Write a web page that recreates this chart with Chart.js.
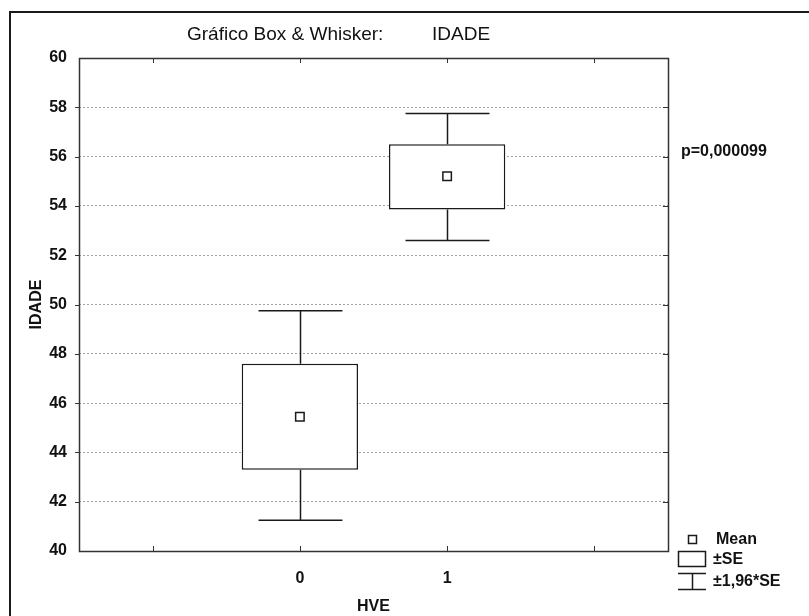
<!DOCTYPE html>
<html>
<head>
<meta charset="utf-8">
<script src="https://cdn.jsdelivr.net/npm/chart.js@4.4.1/dist/chart.umd.min.js"></script>
<style>
    html, body { margin: 0; padding: 0; background: #fff; }
    #wrap { width: 809px; height: 616px; position: relative; }
</style>
</head>
<body>
<div id="wrap"><canvas id="boxChart" width="809" height="616"></canvas></div>
<script>
// dados (HVE x IDADE)
const categories = ['', '0', '1', ''];
const means = [null, 45.45, 55.2, null];
const seBox = [null, [43.3, 47.6], [53.85, 56.5], null];
const ciLow = [null, 41.25, 52.6, null];
const ciHigh = [null, 49.75, 57.75, null];
const yMin = 40;
const yMax = 60;
const yStep = 2;
const titleParts = ['Gráfico Box & Whisker:', 'IDADE'];
const pText = 'p=0,000099';
const legendLabels = ['Mean', '±SE', '±1,96*SE'];

const ink = '#1a1a1a';
const family = '"Liberation Sans", Arial, sans-serif';
const boldFont = 'bold 16px ' + family;

const extras = {
    id: 'extras',
    beforeDraw(chart) {
        const ctx = chart.ctx;
        ctx.save();
        ctx.fillStyle = '#fff';
        ctx.fillRect(0, 0, chart.width, chart.height);
        // moldura externa (só topo e esquerda)
        ctx.strokeStyle = ink;
        ctx.lineWidth = 2;
        ctx.beginPath();
        ctx.moveTo(809, 12);
        ctx.lineTo(10, 12);
        ctx.lineTo(10, 616);
        ctx.stroke();
        ctx.restore();
    },
    beforeDatasetsDraw(chart) {
        const ctx = chart.ctx;
        const x = chart.scales.x;
        const y = chart.scales.y;
        const catW = x.getPixelForValue(1) - x.getPixelForValue(0);
        const half = catW * 0.285;
        ctx.save();
        ctx.strokeStyle = ink;
        ctx.lineWidth = 1.5;
        for (let i = 0; i < categories.length; i++) {
            if (ciLow[i] == null) continue;
            const cx = Math.round(x.getPixelForValue(i)) + 0.5;
            const yl = y.getPixelForValue(ciLow[i]);
            const yh = y.getPixelForValue(ciHigh[i]);
            const bl = y.getPixelForValue(seBox[i][0]);
            const bh = y.getPixelForValue(seBox[i][1]);
            ctx.beginPath();
            ctx.moveTo(cx, yh); ctx.lineTo(cx, bh);
            ctx.moveTo(cx, bl); ctx.lineTo(cx, yl);
            ctx.moveTo(cx - half, yh); ctx.lineTo(cx + half, yh);
            ctx.moveTo(cx - half, yl); ctx.lineTo(cx + half, yl);
            ctx.stroke();
        }
        ctx.restore();
    },
    afterDraw(chart) {
        const ctx = chart.ctx;
        const a = chart.chartArea;
        const x = chart.scales.x;
        const y = chart.scales.y;
        ctx.save();
        // moldura do gráfico
        ctx.strokeStyle = '#333';
        ctx.lineWidth = 1.5;
        ctx.strokeRect(a.left + 0.5, a.top + 0.5, a.right - a.left, a.bottom - a.top);
        ctx.lineWidth = 1;
        ctx.beginPath();
        for (let i = 0; i < categories.length; i++) {
            const px = Math.round(x.getPixelForTick(i)) + 0.5;
            ctx.moveTo(px, a.bottom); ctx.lineTo(px, a.bottom - 5);
            ctx.moveTo(px, a.top); ctx.lineTo(px, a.top + 5);
        }
        for (let v = yMin + yStep; v < yMax; v += yStep) {
            const py = Math.round(y.getPixelForValue(v)) + 0.5;
            ctx.moveTo(a.right, py); ctx.lineTo(a.right - 5, py);
            ctx.moveTo(a.left, py); ctx.lineTo(a.left - 4, py);
        }
        ctx.stroke();

        // título
        ctx.fillStyle = '#111';
        ctx.font = '19px ' + family;
        ctx.textBaseline = 'middle';
        ctx.textAlign = 'left';
        ctx.fillText(titleParts[0], 187, 35);
        ctx.fillText(titleParts[1], 432, 35);

        // valor p
        ctx.font = boldFont;
        ctx.fillText(pText, 681, 152);

        // legenda
        ctx.strokeStyle = ink;
        ctx.lineWidth = 1.5;
        ctx.strokeRect(688.5, 535.5, 8, 8);
        ctx.strokeRect(678.5, 551.5, 27, 15);
        ctx.beginPath();
        ctx.moveTo(678, 573.5); ctx.lineTo(706, 573.5);
        ctx.moveTo(692.5, 573.5); ctx.lineTo(692.5, 589.5);
        ctx.moveTo(678, 589.5); ctx.lineTo(706, 589.5);
        ctx.stroke();
        ctx.fillStyle = '#111';
        ctx.fillText(legendLabels[0], 716, 540);
        ctx.fillText(legendLabels[1], 713, 560);
        ctx.fillText(legendLabels[2], 713, 582);
        ctx.restore();
    }
};

const tickFont = { family: family, size: 16, weight: 'bold' };

new Chart(document.getElementById('boxChart'), {
    data: {
        labels: categories,
        datasets: [
            {
                type: 'line',
                label: 'Mean',
                data: means,
                showLine: false,
                pointStyle: 'rect',
                pointRadius: 6,
                pointBackgroundColor: '#fff',
                pointBorderColor: ink,
                pointBorderWidth: 1.5,
                order: 0,
            },
            {
                type: 'bar',
                label: '±SE',
                data: seBox,
                backgroundColor: '#fff',
                borderColor: ink,
                borderWidth: 1.5,
                borderSkipped: false,
                barPercentage: 0.79,
                categoryPercentage: 1,
                order: 1,
            },
        ],
    },
    options: {
        responsive: false,
        animation: false,
        devicePixelRatio: 1,
        layout: { padding: { left: 0, top: 58, right: 141, bottom: 0 } },
        plugins: {
            legend: { display: false },
            tooltip: { enabled: false },
        },
        scales: {
            x: {
                type: 'category',
                offset: true,
                grid: { display: false },
                border: { display: false },
                ticks: { color: '#111', font: tickFont, padding: 10 },
                title: { display: true, text: 'HVE', color: '#111', font: tickFont, padding: { top: 6, bottom: 0 } },
                afterFit(scale) { scale.height = 65; },
            },
            y: {
                min: yMin,
                max: yMax,
                grid: {
                    color: (c) => (c.tick && (c.tick.value === yMin || c.tick.value === yMax) ? 'rgba(0,0,0,0)' : '#a0a0a0'),
                    lineWidth: 1,
                    drawTicks: false,
                },
                border: { display: false, dash: [2, 2] },
                ticks: { stepSize: yStep, color: '#111', font: tickFont, padding: 12 },
                title: { display: true, text: 'IDADE', color: '#111', font: tickFont, padding: { top: 27, bottom: 0 } },
                afterFit(scale) { scale.width = 79; },
            },
        },
    },
    plugins: [extras],
});
</script>
</body>
</html>
